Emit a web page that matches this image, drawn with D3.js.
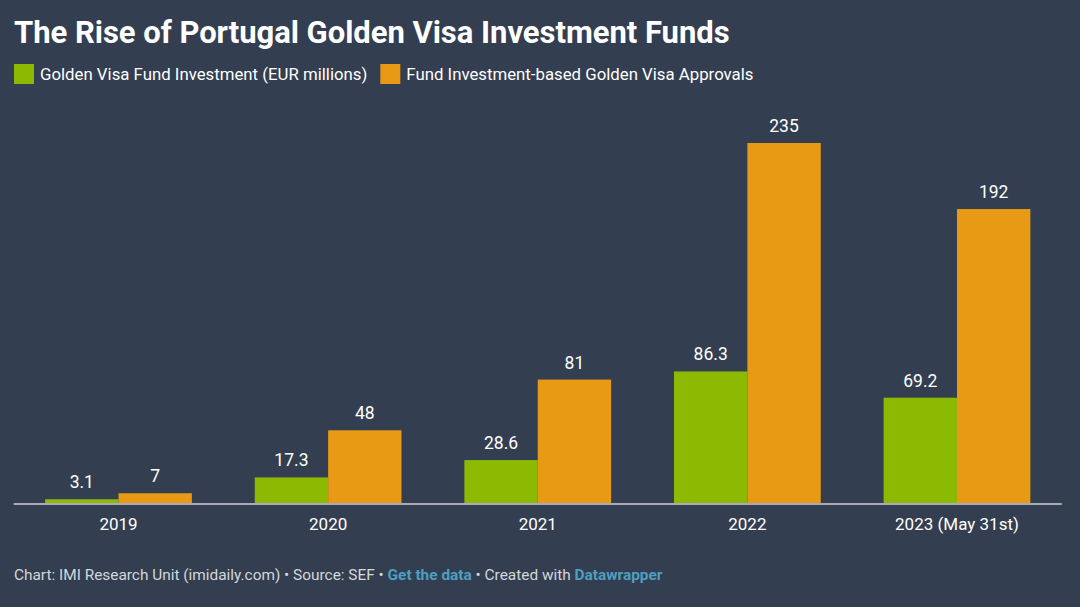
<!DOCTYPE html>
<html><head><meta charset="utf-8">
<script src="https://cdn.jsdelivr.net/npm/d3@7"></script>
<style>
html,body{margin:0;padding:0;background:#333e50;}
svg{display:block;font-family:Roboto,"Noto Sans",sans-serif;}
</style></head>
<body>
<svg id="chart" width="1080" height="607"></svg>
<script>
const categories = ["2019","2020","2021","2022","2023 (May 31st)"];
const fundInvestment = [3.1, 17.3, 28.6, 86.3, 69.2];
const visaApprovals = [7, 48, 81, 235, 192];
const seriesNames = ["Golden Visa Fund Investment (EUR millions)", "Fund Investment-based Golden Visa Approvals"];
const seriesColors = ["#8cba03", "#e99a14"];

const svg = d3.select("#chart");
svg.append("rect").attr("width",1080).attr("height",607).attr("fill","#333e50");

svg.append("text").attr("x",14).attr("y",43).attr("fill","#ffffff")
  .attr("font-size",31).attr("font-weight",700).attr("letter-spacing","-0.03")
  .text("The Rise of Portugal Golden Visa Investment Funds");

// legend
const leg = svg.append("g");
let lx = 14;
seriesNames.forEach((n,i)=>{
  leg.append("rect").attr("x",lx).attr("y",64).attr("width",20).attr("height",20).attr("fill",seriesColors[i]);
  const t = leg.append("text").attr("x",lx+26).attr("y",80).attr("fill","#ffffff")
    .attr("font-size",16.8).text(n);
  lx += 26 + t.node().getComputedTextLength() + 13;
});

const baseY = 504;
const x0 = d3.scaleBand().domain(categories).range([13.7,1061.8]).paddingInner(0.3).paddingOuter(0.15);
const x1 = d3.scaleBand().domain([0,1]).range([0,x0.bandwidth()]);
const y = d3.scaleLinear().domain([0,235]).range([baseY,143]);

const data = categories.map((c,i)=>({cat:c, vals:[fundInvestment[i], visaApprovals[i]]}));
const g = svg.append("g");
const groups = g.selectAll("g.grp").data(data).join("g").attr("transform",d=>`translate(${x0(d.cat)},0)`);
groups.selectAll("rect").data(d=>d.vals.map((v,k)=>({v,k}))).join("rect")
  .attr("x",d=>x1(d.k)).attr("width",x1.bandwidth())
  .attr("y",d=>y(d.v)).attr("height",d=>baseY-y(d.v)).attr("fill",d=>seriesColors[d.k]);
groups.selectAll("text.val").data(d=>d.vals.map((v,k)=>({v,k}))).join("text")
  .attr("class","val").attr("x",d=>x1(d.k)+x1.bandwidth()/2).attr("y",d=>y(d.v)-11)
  .attr("text-anchor","middle").attr("fill","#ffffff").attr("font-size",17.5)
  .text(d=>d.v);

// baseline axis
const xAxis = d3.axisBottom(x0).tickSize(0).tickPadding(14);
const ax = svg.append("g").attr("transform",`translate(0,${baseY})`).call(xAxis);
ax.select(".domain").attr("stroke","#a8acb3").attr("stroke-width",2).attr("d","M13.7,0H1061.8");
ax.selectAll("text").attr("fill","#ffffff").attr("font-size",17).attr("font-family","Roboto,sans-serif");

// footer
const f = svg.append("text").attr("x",14).attr("y",580).attr("font-size",15.4).attr("fill","#d4d7dc");
f.append("tspan").text("Chart: IMI Research Unit (imidaily.com) • Source: SEF • ");
f.append("tspan").attr("fill","#4d9fc0").attr("font-weight",700).text("Get the data");
f.append("tspan").text(" • Created with ");
f.append("tspan").attr("fill","#4d9fc0").attr("font-weight",700).text("Datawrapper");
</script>
</body></html>
